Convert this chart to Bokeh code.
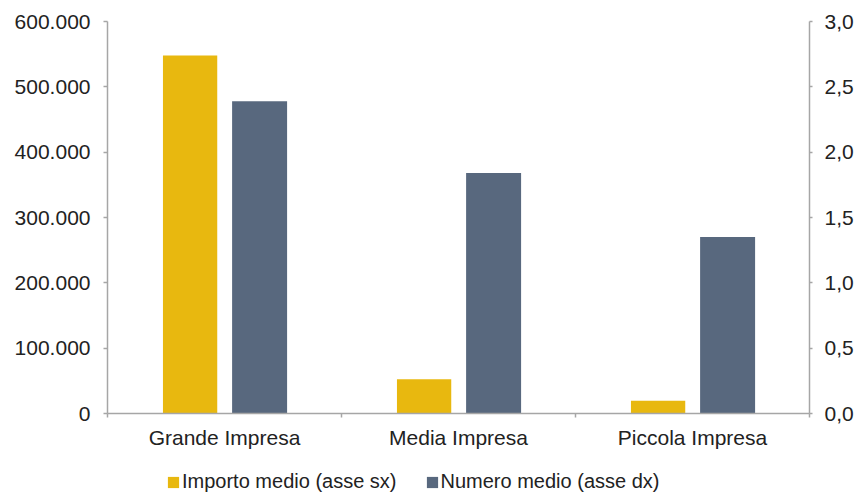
import numpy as np
from bokeh.plotting import figure
from bokeh.layouts import column
from bokeh.models import (Range1d, LinearAxis, FixedTicker, CustomJSTickFormatter,
                          Legend, LegendItem, ColumnDataSource)
from bokeh.embed import file_html
from bokeh.resources import INLINE

categories = ["Grande Impresa", "Media Impresa", "Piccola Impresa"]
importo_medio = [548000, 52500, 19500]      # asse sx
numero_medio = [2.39, 1.84, 1.35]           # asse dx
left_ticks = [0, 100000, 200000, 300000, 400000, 500000, 600000]
right_ticks = [0.0, 0.5, 1.0, 1.5, 2.0, 2.5, 3.0]
series_names = ["Importo medio (asse sx)", "Numero medio (asse dx)"]

YELLOW = "#E8B80F"
BLUE = "#58687E"
AXIS = "#A6A6A6"
TEXT = "#222222"
FONT = "Liberation Sans"
FS = "21px"

xc = np.arange(len(categories)) + 0.5
src = ColumnDataSource(dict(
    x1=xc - 0.147, x2=xc + 0.150,
    imp=importo_medio, num=numero_medio))

p = figure(width=856, height=458, output_backend="svg", toolbar_location=None,
           x_range=Range1d(0, len(categories)), y_range=Range1d(0, 600000),
           min_border_left=107, min_border_right=46, min_border_top=21,
           min_border_bottom=45)
p.extra_y_ranges = {"right": Range1d(0, 3)}
p.outline_line_color = None
p.grid.visible = False
p.xaxis.visible = False
p.yaxis.visible = False

r1 = p.vbar(x="x1", top="imp", width=0.232, source=src, color=YELLOW, line_color=None)
r2 = p.vbar(x="x2", top="num", width=0.235, source=src, color=BLUE, line_color=None,
            y_range_name="right")

def style(ax):
    ax.axis_line_color = AXIS
    ax.axis_line_width = 1.5
    ax.major_tick_line_color = AXIS
    ax.major_tick_line_width = 1.5
    ax.major_tick_in = 0
    ax.major_tick_out = 4
    ax.minor_tick_line_color = None
    ax.major_label_text_font = FONT
    ax.major_label_text_font_size = FS
    ax.major_label_text_color = TEXT

ly = LinearAxis(ticker=FixedTicker(ticks=left_ticks),
                formatter=CustomJSTickFormatter(code="return tick.toFixed(0).replace(/\\B(?=(\\d{3})+(?!\\d))/g, '.');"))
style(ly)
ly.major_label_standoff = 13
p.add_layout(ly, "left")

ry = LinearAxis(y_range_name="right", ticker=FixedTicker(ticks=right_ticks),
                formatter=CustomJSTickFormatter(code="return tick.toFixed(1).replace('.', ',');"))
style(ry)
ry.major_tick_out = 3
ry.major_label_standoff = 12
p.add_layout(ry, "right")

bounds = list(np.arange(len(categories) + 1).astype(float))
xa = LinearAxis(ticker=FixedTicker(ticks=list(xc), minor_ticks=bounds),
                formatter=CustomJSTickFormatter(args=dict(cats=categories),
                                                code="return cats[Math.floor(tick)];"))
style(xa)
xa.major_tick_line_color = None
xa.minor_tick_line_color = AXIS
xa.minor_tick_line_width = 1.5
xa.minor_tick_in = 0
xa.minor_tick_out = 4
xa.major_label_standoff = 8
p.add_layout(xa, "below")

# legend strip below the chart
lf = figure(width=856, height=36, output_backend="svg", toolbar_location=None,
            x_range=p.x_range, y_range=Range1d(0, 1),
            min_border_left=0, min_border_right=0, min_border_top=0,
            min_border_bottom=0)
lf.outline_line_color = None
lf.grid.visible = False
lf.axis.visible = False
l1 = lf.vbar(x="x1", top="imp", width=0.2, source=src, color=YELLOW, line_color=None,
             visible=False)
l2 = lf.vbar(x="x2", top="num", width=0.2, source=src, color=BLUE, line_color=None,
             visible=False)
legend = Legend(items=[LegendItem(label=series_names[0], renderers=[l1]),
                       LegendItem(label=series_names[1], renderers=[l2])],
                location=(59, 1), orientation="horizontal",
                glyph_width=14, glyph_height=14, label_standoff=2, spacing=28,
                padding=0, margin=0, border_line_color=None,
                background_fill_alpha=0, inactive_fill_alpha=0,
                label_text_font=FONT, label_text_font_size="20px",
                label_text_color=TEXT)
lf.add_layout(legend, "center")

layout = column(p, lf, spacing=0)
open("out.html", "w").write(file_html(layout, INLINE))
